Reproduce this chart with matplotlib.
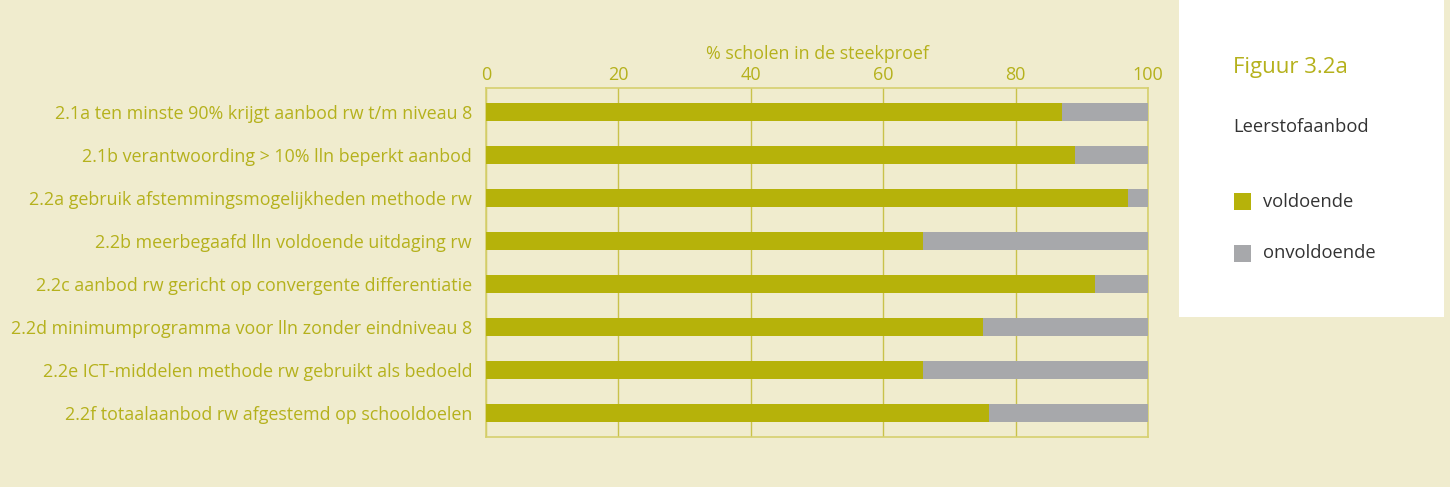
import matplotlib
matplotlib.use("Agg")
import matplotlib.pyplot as plt
from matplotlib.patches import Rectangle

categories = [
    "2.1a ten minste 90% krijgt aanbod rw t/m niveau 8",
    "2.1b verantwoording > 10% lln beperkt aanbod",
    "2.2a gebruik afstemmingsmogelijkheden methode rw",
    "2.2b meerbegaafd lln voldoende uitdaging rw",
    "2.2c aanbod rw gericht op convergente differentiatie",
    "2.2d minimumprogramma voor lln zonder eindniveau 8",
    "2.2e ICT-middelen methode rw gebruikt als bedoeld",
    "2.2f totaalaanbod rw afgestemd op schooldoelen",
]
voldoende = [87, 89, 97, 66, 92, 75, 66, 76]
onvoldoende = [13, 11, 3, 34, 8, 25, 34, 24]
xticks = [0, 20, 40, 60, 80, 100]

GREEN = "#b6b20a"
GREY = "#a7a8ab"
BG = "#f0ecce"
TXT = "#b5b11c"
GRID = "#c9c24a"

plt.rcParams['font.family'] = ['Open Sans', 'DejaVu Sans']

W, H = 1450, 487
fig = plt.figure(figsize=(W / 100, H / 100), dpi=100)
fig.patch.set_facecolor(BG)

ax = fig.add_axes([486 / W, 1 - 437 / H, 662 / W, 349 / H])
ax.set_facecolor(BG)
y = list(range(len(categories)))
ax.barh(y, voldoende, height=0.41, color=GREEN, zorder=3)
ax.barh(y, onvoldoende, left=voldoende, height=0.41, color=GREY, zorder=3)
ax.set_xlim(0, 100)
ax.set_ylim(len(categories) - 0.44, -0.56)
ax.set_yticks(y)
ax.set_yticklabels(categories, fontsize=12.9, color=TXT)
ax.xaxis.tick_top()
ax.xaxis.set_label_position("top")
ax.set_xticks(xticks)
ax.set_xticklabels([str(t) for t in xticks], fontsize=13, color=TXT)
ax.tick_params(axis="both", length=0)
ax.tick_params(axis="x", pad=3)
ax.tick_params(axis="y", pad=10)
ax.set_xlabel("% scholen in de steekproef", fontsize=12.9, color=TXT, labelpad=5)
ax.grid(axis="x", color=GRID, linewidth=1.0, zorder=1)
for s in ax.spines.values():
    s.set_color("#d6d06e")
    s.set_linewidth(1.2)

# legend panel
fig.patches.append(Rectangle((1179 / W, 1 - 317 / H), (1444 - 1179) / W, 317 / H,
                             transform=fig.transFigure, facecolor="white",
                             edgecolor="none", zorder=0))
fig.text(1233 / W, 1 - 67 / H, "Figuur 3.2a", fontsize=16, color=TXT, va="center", ha="left")
fig.text(1233 / W, 1 - 127 / H, "Leerstofaanbod", fontsize=13.2, color="#333333", va="center", ha="left")
leg = [("voldoende", GREEN, 202), ("onvoldoende", GREY, 253)]
for label, col, yy in leg:
    fig.patches.append(Rectangle((1234 / W, 1 - (yy + 8.5) / H), 17 / W, 17 / H,
                                 transform=fig.transFigure, facecolor=col,
                                 edgecolor="none", zorder=1))
    fig.text(1263 / W, 1 - yy / H, label, fontsize=13.2, color="#333333", va="center", ha="left")

fig.savefig("out.png", dpi=100, facecolor=BG)
